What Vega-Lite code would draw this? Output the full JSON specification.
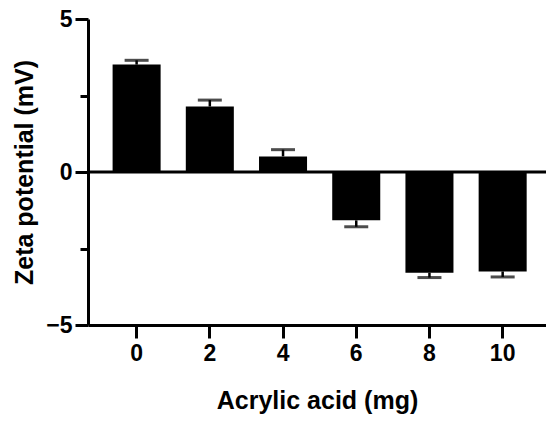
{
  "$schema": "https://vega.github.io/schema/vega-lite/v6.json",
  "width": 458,
  "height": 306,
  "autosize": {"type": "none"},
  "padding": {"left": 88, "top": 19, "right": 0, "bottom": 101},
  "background": "white",
  "config": {
    "view": {"stroke": null},
    "font": "Liberation Sans",
    "axis": {
      "labelFont": "Liberation Sans",
      "titleFont": "Liberation Sans",
      "labelFontWeight": "bold",
      "titleFontWeight": "bold",
      "labelColor": "black",
      "titleColor": "black",
      "domainColor": "black",
      "tickColor": "black",
      "domainWidth": 3,
      "tickWidth": 3,
      "grid": false
    }
  },
  "data": {
    "values": [
      {"acid": "0", "mean": 3.51, "errEnd": 3.65},
      {"acid": "2", "mean": 2.14, "errEnd": 2.35},
      {"acid": "4", "mean": 0.51, "errEnd": 0.73},
      {"acid": "6", "mean": -1.58, "errEnd": -1.79},
      {"acid": "8", "mean": -3.29, "errEnd": -3.45},
      {"acid": "10", "mean": -3.25, "errEnd": -3.43}
    ]
  },
  "layer": [
    {
      "mark": {"type": "bar", "color": "black"},
      "encoding": {
        "x": {
          "field": "acid",
          "type": "ordinal",
          "sort": null,
          "scale": {"paddingInner": 0.344, "paddingOuter": 0.3, "align": 0.56},
          "axis": {
            "title": "Acrylic acid (mg)",
            "titleFontSize": 25,
            "titlePadding": 23,
            "labelFontSize": 23,
            "labelAngle": 0,
            "labelPadding": 4,
            "tickSize": 13
          }
        },
        "y": {
          "field": "mean",
          "type": "quantitative",
          "scale": {"domain": [-5, 5], "nice": false, "zero": false},
          "axis": {
            "title": "Zeta potential (mV)",
            "titleFontSize": 25,
            "titlePadding": 8,
            "labelFontSize": 23,
            "labelPadding": 3,
            "values": [-5, -2.5, 0, 2.5, 5],
            "labelExpr": "abs(datum.value) === 2.5 ? '' : datum.label",
            "tickSize": {"condition": {"test": "abs(datum.value) === 2.5", "value": 8}, "value": 13}
          }
        },
        "y2": {"datum": 0}
      }
    },
    {
      "mark": {"type": "rule", "color": "black", "strokeWidth": 2.5},
      "encoding": {
        "x": {"field": "acid", "type": "ordinal", "sort": null},
        "y": {"field": "mean", "type": "quantitative"},
        "y2": {"field": "errEnd"}
      }
    },
    {
      "mark": {"type": "tick", "color": "black", "thickness": 3, "size": 24},
      "encoding": {
        "x": {"field": "acid", "type": "ordinal", "sort": null},
        "y": {"field": "errEnd", "type": "quantitative"}
      }
    },
    {
      "data": {"values": [{"zero": 0}]},
      "mark": {"type": "rule", "color": "black", "strokeWidth": 3},
      "encoding": {
        "y": {"field": "zero", "type": "quantitative"}
      }
    }
  ]
}
